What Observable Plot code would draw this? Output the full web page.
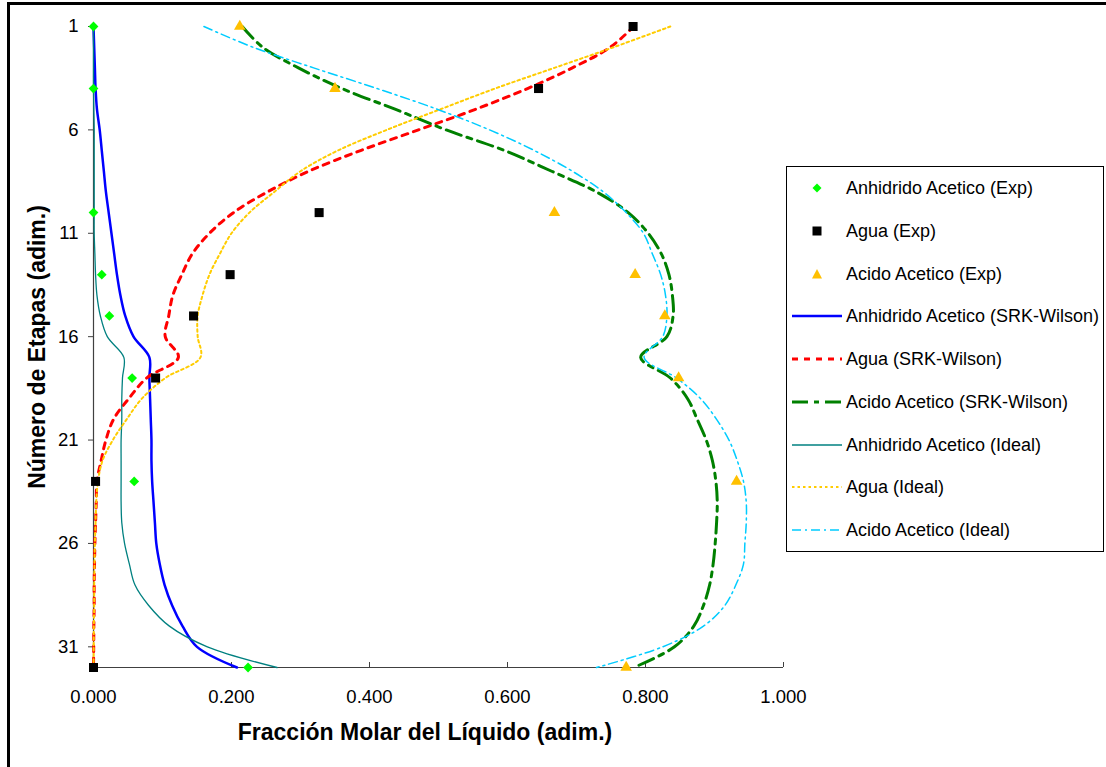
<!DOCTYPE html>
<html><head><meta charset="utf-8">
<script src="https://cdn.jsdelivr.net/npm/d3@7"></script>
<script src="https://cdn.jsdelivr.net/npm/@observablehq/plot@0.6"></script>
<style>
html,body{margin:0;padding:0;background:#fff;}
#wrap{position:relative;width:1106px;height:767px;overflow:hidden;font-family:"Liberation Sans",Arial,sans-serif;color:#000;}
#frame{position:absolute;left:7px;top:2px;width:1300px;height:1000px;border-left:3px solid #000;border-top:3px solid #000;}
#chart{position:absolute;left:0;top:0;}
.ttl{position:absolute;font-weight:bold;font-size:23px;white-space:nowrap;}
#xt{left:425px;top:732px;transform:translate(-50%,-50%);}
#yt{left:37px;top:347px;transform:translate(-50%,-50%) rotate(-90deg);}
#legend{position:absolute;left:786px;top:166px;width:318px;height:386px;box-sizing:border-box;border:1px solid #000;background:#fff;}
.row{position:absolute;left:0;height:24px;width:316px;}
.row svg{position:absolute;left:5px;top:0;}
.row span{position:absolute;left:59px;top:0;line-height:24px;font-size:18px;white-space:nowrap;}
</style>
</head><body>
<div id="wrap">
  <div id="frame"></div>
  <div id="chart"></div>
  <div class="ttl" id="xt">Fracción Molar del Líquido (adim.)</div>
  <div class="ttl" id="yt">Número de Etapas (adim.)</div>
  <div id="legend"></div>
</div>
<script>
// ---- data ----
const stages = [1,2,3,4,5,6,7,8,9,10,11,12,13,14,15,16,17,18,19,20,21,22,23,24,25,26,27,28,29,30,31,32];
const anhSRK   = [0.000,0.001,0.002,0.003,0.005,0.009,0.012,0.015,0.018,0.022,0.026,0.030,0.034,0.039,0.046,0.058,0.081,0.081,0.082,0.083,0.084,0.084,0.085,0.087,0.089,0.091,0.096,0.103,0.114,0.129,0.150,0.208];
const aguaSRK  = [0.783,0.749,0.694,0.629,0.554,0.471,0.387,0.312,0.252,0.203,0.168,0.143,0.128,0.115,0.109,0.104,0.123,0.077,0.051,0.029,0.018,0.011,0.005,0.004,0.003,0.002,0.0015,0.001,0.001,0.0005,0.0003,0.000];
const acidoSRK = [0.2155,0.245,0.297,0.360,0.437,0.511,0.596,0.664,0.729,0.775,0.804,0.823,0.834,0.839,0.840,0.831,0.793,0.836,0.861,0.875,0.888,0.897,0.902,0.904,0.903,0.901,0.898,0.893,0.884,0.870,0.842,0.783];
const anhIdeal   = [0.000,0.000,0.000,0.000,0.0005,0.001,0.001,0.001,0.001,0.001,0.001,0.002,0.003,0.005,0.010,0.020,0.044,0.042,0.041,0.041,0.040,0.040,0.040,0.040,0.041,0.045,0.052,0.060,0.080,0.110,0.165,0.266];
const aguaIdeal  = [0.836,0.754,0.668,0.582,0.503,0.425,0.354,0.300,0.262,0.226,0.200,0.183,0.168,0.158,0.151,0.151,0.155,0.104,0.070,0.048,0.028,0.013,0.0065,0.004,0.003,0.002,0.0015,0.001,0.001,0.0005,0.0003,0.000];
const acidoIdeal = [0.160,0.231,0.319,0.411,0.498,0.574,0.639,0.694,0.739,0.772,0.797,0.810,0.822,0.829,0.831,0.825,0.798,0.845,0.880,0.903,0.921,0.933,0.942,0.946,0.946,0.944,0.942,0.931,0.915,0.884,0.825,0.729];

const expStages = [1,4,10,13,15,18,23,32];
const anhExp   = [0.000,0.000,0.000,0.012,0.023,0.056,0.059,0.224];
const aguaExp  = [0.782,0.645,0.327,0.198,0.145,0.090,0.003,0.000];
const acidoExp = [0.212,0.350,0.668,0.785,0.828,0.848,0.932,0.772];

const xTicks = [0, 0.2, 0.4, 0.6, 0.8, 1.0];
const yTicks = [1, 6, 11, 16, 21, 26, 31];

const series = [
  {name: "Anhidrido Acetico (SRK-Wilson)", values: anhSRK,   stroke: "#0000FF", width: 2.5, dash: null},
  {name: "Agua (SRK-Wilson)",              values: aguaSRK,  stroke: "#FF0000", width: 3,   dash: "6,6"},
  {name: "Acido Acetico (SRK-Wilson)",     values: acidoSRK, stroke: "#008000", width: 3,   dash: "16,6,5,6"},
  {name: "Anhidrido Acetico (Ideal)",      values: anhIdeal, stroke: "#008080", width: 1.3, dash: null},
  {name: "Agua (Ideal)",                   values: aguaIdeal, stroke: "#FFCC00", width: 2,  dash: "2.5,3"},
  {name: "Acido Acetico (Ideal)",          values: acidoIdeal, stroke: "#00CCFF", width: 1.5, dash: "9,4,2,4"}
];
const points = [
  {name: "Anhidrido Acetico (Exp)", values: anhExp,   symbol: "diamond2", fill: "#00FF00", r: 4.4},
  {name: "Agua (Exp)",              values: aguaExp,  symbol: "square",   fill: "#000000", r: 5.1},
  {name: "Acido Acetico (Exp)",     values: acidoExp, symbol: "triangle", fill: "#FFC000", r: 4.3}
];

const axisColor = "#404040";
const marks = [];
marks.push(Plot.ruleX([0], {stroke: axisColor, strokeWidth: 1.2}));
marks.push(Plot.ruleY([32], {stroke: axisColor, strokeWidth: 1.2}));
marks.push(Plot.axisY({ticks: yTicks, tickSize: 5, tickPadding: 10, label: null, stroke: axisColor, fill: "#000", fontSize: 18.5}));
marks.push(Plot.axisX({ticks: xTicks, tickFormat: d3.format(".3f"), tickSize: -5, tickPadding: 27, label: null, stroke: axisColor, fill: "#000", fontSize: 18.5}));
for (const s of series) {
  marks.push(Plot.line(stages, {x: (d, i) => s.values[i], y: d => d, stroke: s.stroke, strokeWidth: s.width, strokeDasharray: s.dash, curve: "catmull-rom"}));
}
for (const p of points) {
  marks.push(Plot.dot(expStages, {x: (d, i) => p.values[i], y: d => d, symbol: p.symbol, fill: p.fill, stroke: "none", r: p.r}));
}

const chart = Plot.plot({
  width: 840, height: 767,
  marginLeft: 93, marginRight: 57, marginTop: 26, marginBottom: 100,
  x: {domain: [0, 1]},
  y: {domain: [1, 32], reverse: true},
  style: {background: "transparent", fontFamily: "'Liberation Sans', Arial, sans-serif", fontSize: "18.5px", color: "#000"},
  marks
});
document.getElementById("chart").appendChild(chart);

// ---- legend ----
const legend = document.getElementById("legend");
const sym = {
  "diamond2": c => `<polygon points="25,7.5 29.5,12 25,16.5 20.5,12" fill="${c}"/>`,
  "square": c => `<rect x="20.5" y="7.5" width="9" height="9" fill="${c}"/>`,
  "triangle": c => `<polygon points="25,7 30,16.5 20,16.5" fill="${c}"/>`
};
const entries = [
  ...points.map(p => ({name: p.name, svg: sym[p.symbol](p.fill)})),
  ...series.map(s => ({name: s.name, svg: `<line x1="0" y1="12" x2="50" y2="12" stroke="${s.stroke}" stroke-width="${s.width}" ${s.dash ? `stroke-dasharray="${s.dash}"` : ""}/>`}))
];
entries.forEach((e, i) => {
  const row = document.createElement("div");
  row.className = "row";
  row.style.top = (21 + i * 42.75 - 12) + "px";
  row.innerHTML = `<svg width="50" height="24">${e.svg}</svg><span>${e.name}</span>`;
  legend.appendChild(row);
});
</script>
</body></html>
